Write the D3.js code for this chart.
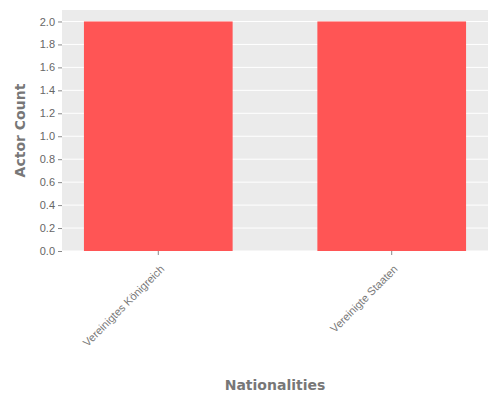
<!DOCTYPE html>
<html lang="en">
<head>
<meta charset="utf-8">
<script src="https://d3js.org/d3.v7.min.js"></script>
<style>body{margin:0;background:#fff;}</style>
</head>
<body>
<script>
var categories = ["Vereinigtes Königreich", "Vereinigte Staaten"];
var counts = [2, 2];
var yTicks = [0, 0.2, 0.4, 0.6, 0.8, 1.0, 1.2, 1.4, 1.6, 1.8, 2.0];

var w = 500, h = 400;
var m = {left: 62, right: 12, top: 10, bottom: 149};

var svg = d3.select("body").append("svg")
	.attr("width", w).attr("height", h)
	.style("font-family", "DejaVu Sans");

var x = d3.scaleBand().domain(categories)
	.range([m.left, w - m.right]).paddingInner(0.363).paddingOuter(0.094);
var y = d3.scaleLinear().domain([0, 2.1]).range([h - m.bottom, m.top]);

// panel background
svg.append("rect")
	.attr("x", m.left).attr("y", m.top)
	.attr("width", w - m.left - m.right).attr("height", h - m.top - m.bottom)
	.attr("fill", "#ebebeb");

// grid lines
svg.selectAll(".grid").data(yTicks).enter().append("line")
	.attr("x1", m.left).attr("x2", w - m.right)
	.attr("y1", function(d){ return y(d); }).attr("y2", function(d){ return y(d); })
	.attr("stroke", "#fff").attr("stroke-width", 1);

svg.selectAll(".bar").data(counts).enter().append("rect")
	.attr("x", function(d, i){ return x(categories[i]); })
	.attr("y", function(d){ return y(d); })
	.attr("width", x.bandwidth())
	.attr("height", function(d){ return y(0) - y(d); })
	.attr("fill", "#ff5555");

var yAxis = svg.append("g").attr("transform", "translate(" + m.left + ",0)")
	.call(d3.axisLeft(y).tickValues(yTicks).tickFormat(d3.format(".1f")).tickSize(4));
yAxis.select(".domain").remove();
yAxis.selectAll("line").attr("stroke", "#888");
yAxis.selectAll("text").attr("fill", "#666").style("font-size", "11px");

var xAxis = svg.append("g").attr("transform", "translate(0," + (h - m.bottom) + ")")
	.call(d3.axisBottom(x).tickSize(4));
xAxis.select(".domain").remove();
xAxis.selectAll("line").attr("stroke", "#888");
xAxis.selectAll("text").attr("fill", "#777").style("font-size", "11px")
	.attr("text-anchor", "end")
	.attr("y", 0).attr("dy", "0.35em")
	.attr("transform", "translate(4,16) rotate(-45)");

svg.append("text")
	.attr("transform", "translate(25," + ((m.top + h - m.bottom) / 2) + ") rotate(-90)")
	.attr("text-anchor", "middle")
	.attr("fill", "#777").style("font-size", "14px").style("font-weight", "600")
	.text("Actor Count");

svg.append("text")
	.attr("x", (m.left + w - m.right) / 2).attr("y", 390)
	.attr("text-anchor", "middle")
	.attr("fill", "#777").style("font-size", "14px").style("font-weight", "600")
	.text("Nationalities");
</script>
</body>
</html>
